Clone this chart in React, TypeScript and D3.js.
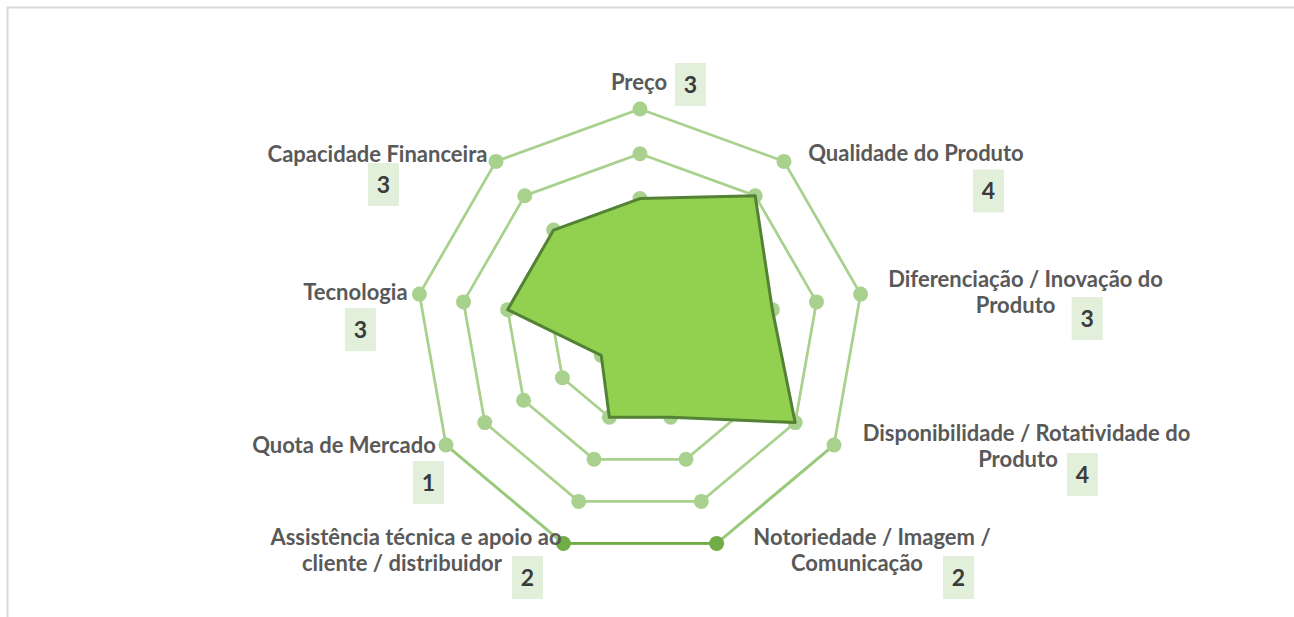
import React from "react";
import * as d3 from "d3";

// ---- data ----
const categories: string[] = [
  "Preço",
  "Qualidade do Produto",
  "Diferenciação / Inovação do Produto",
  "Disponibilidade / Rotatividade do Produto",
  "Notoriedade / Imagem / Comunicação",
  "Assistência técnica e apoio ao cliente / distribuidor",
  "Quota de Mercado",
  "Tecnologia",
  "Capacidade Financeira",
];
const scores: number[] = [3, 4, 3, 4, 2, 2, 1, 3, 3];
const levels: number[] = [1, 2, 3, 4, 5];
const maxLevel = 5;

// ---- layout / style ----
const W = 1294;
const H = 617;
const cx = 640;
const cy = 333;
const R = 224;

// words on first line, offsets of label block relative to outer axis point
const labelLayout = [
  { firstWords: 1, dx: -1, dy: -19, lineDx: [0], boxDx: 36, boxDy: -27 },
  { firstWords: 3, dx: 132, dy: 0, lineDx: [0], boxDx: 57, boxDy: 8 },
  { firstWords: 4, dx: 165, dy: -7, lineDx: [0, -10], boxDx: 46, boxDy: 10 },
  { firstWords: 4, dx: 192.5, dy: -4, lineDx: [0, -8.5], boxDx: 40.5, boxDy: 12 },
  { firstWords: 4, dx: 155.4, dy: 1.5, lineDx: [0, -15], boxDx: 71, boxDy: 11 },
  { firstWords: 5, dx: -147.4, dy: 1.5, lineDx: [0, -14], boxDx: 96, boxDy: 11 },
  { firstWords: 3, dx: -102, dy: 8, lineDx: [0], boxDx: 69, boxDy: 8 },
  { firstWords: 1, dx: -64, dy: 6, lineDx: [0], boxDx: -10.5, boxDy: 8 },
  { firstWords: 2, dx: -118.5, dy: 0.6, lineDx: [0], boxDx: -9.5, boxDy: 1 },
];

const ringColor = "#a9d18e";
const ringDark = "#70ad47";
const ringMid = "#99ca7a";
const fillColor = "#92d050";
const strokeColor = "#548235";
const labelColor = "#595959";
const numColor = "#3a3a3a";
const boxColor = "#e2efda";
const font = "Lato, 'Open Sans', sans-serif";

export default function App() {
  const n = categories.length;
  const angle = d3.scaleLinear().domain([0, n]).range([0, 2 * Math.PI]);
  const rScale = d3.scaleLinear().domain([0, maxLevel]).range([0, R]);
  const pt = (i: number, v: number): [number, number] => {
    const a = angle(i);
    const r = rScale(v);
    return [cx + r * Math.sin(a), cy - r * Math.cos(a)];
  };

  const radial = d3
    .lineRadial<number>()
    .angle((_, i) => angle(i))
    .radius((d) => rScale(d))
    .curve(d3.curveLinearClosed);

  const idx = d3.range(n);
  const outer = levels[levels.length - 1];
  const p4 = pt(4, outer);
  const p5 = pt(5, outer);
  const p3 = pt(3, outer);
  const p6 = pt(6, outer);

  return (
    <div style={{ position: "absolute", left: 0, top: 0, width: W, height: H, background: "#fff" }}>
      <svg width={W} height={H} style={{ display: "block" }}>
        <path d={`M7.5,${H} V7.5 H${W}`} fill="none" stroke="#d9d9d9" strokeWidth={2} />

        {/* rings */}
        {levels.map((lv) => (
          <path
            key={"ring" + lv}
            transform={`translate(${cx},${cy})`}
            d={radial(idx.map(() => lv)) || ""}
            fill="none"
            stroke={ringColor}
            strokeWidth={2.75}
          />
        ))}
        <line x1={p3[0]} y1={p3[1]} x2={p4[0]} y2={p4[1]} stroke={ringMid} strokeWidth={2.75} />
        <line x1={p5[0]} y1={p5[1]} x2={p6[0]} y2={p6[1]} stroke={ringMid} strokeWidth={2.75} />
        <line x1={p4[0]} y1={p4[1]} x2={p5[0]} y2={p5[1]} stroke={ringDark} strokeWidth={2.75} />
        {levels.map((lv) =>
          idx.map((i) => {
            const [x, y] = pt(i, lv);
            const dark = lv === outer && (i === 4 || i === 5);
            return <circle key={`m${lv}-${i}`} cx={x} cy={y} r={7.5} fill={dark ? ringDark : ringColor} />;
          })
        )}

        {/* data */}
        <path
          transform={`translate(${cx},${cy})`}
          d={radial(scores) || ""}
          fill={fillColor}
          stroke={strokeColor}
          strokeWidth={3}
          strokeLinejoin="round"
        />

        {/* labels */}
        {categories.map((c, i) => {
          const L = labelLayout[i];
          const [ox, oy] = pt(i, outer);
          const ax = ox + L.dx;
          const ay = oy + L.dy;
          const words = c.split(" ");
          const lines = [words.slice(0, L.firstWords).join(" ")];
          if (words.length > L.firstWords) lines.push(words.slice(L.firstWords).join(" "));
          const bx = ax + L.boxDx;
          const by = ay + L.boxDy;
          return (
            <g key={"lab" + i}>
              {lines.map((t, j) => (
                <text
                  key={j}
                  x={ax + (L.lineDx[j] || 0)}
                  y={ay + j * 26}
                  textAnchor="middle"
                  fontFamily={font}
                  fontWeight={700}
                  fontSize={22}
                  fill={labelColor}
                >
                  {t}
                </text>
              ))}
              <rect x={bx} y={by} width={31} height={43} fill={boxColor} />
              <text
                x={bx + 15.5}
                y={by + 30}
                textAnchor="middle"
                fontFamily={font}
                fontWeight={700}
                fontSize={23}
                fill={numColor}
              >
                {scores[i]}
              </text>
            </g>
          );
        })}
      </svg>
    </div>
  );
}
